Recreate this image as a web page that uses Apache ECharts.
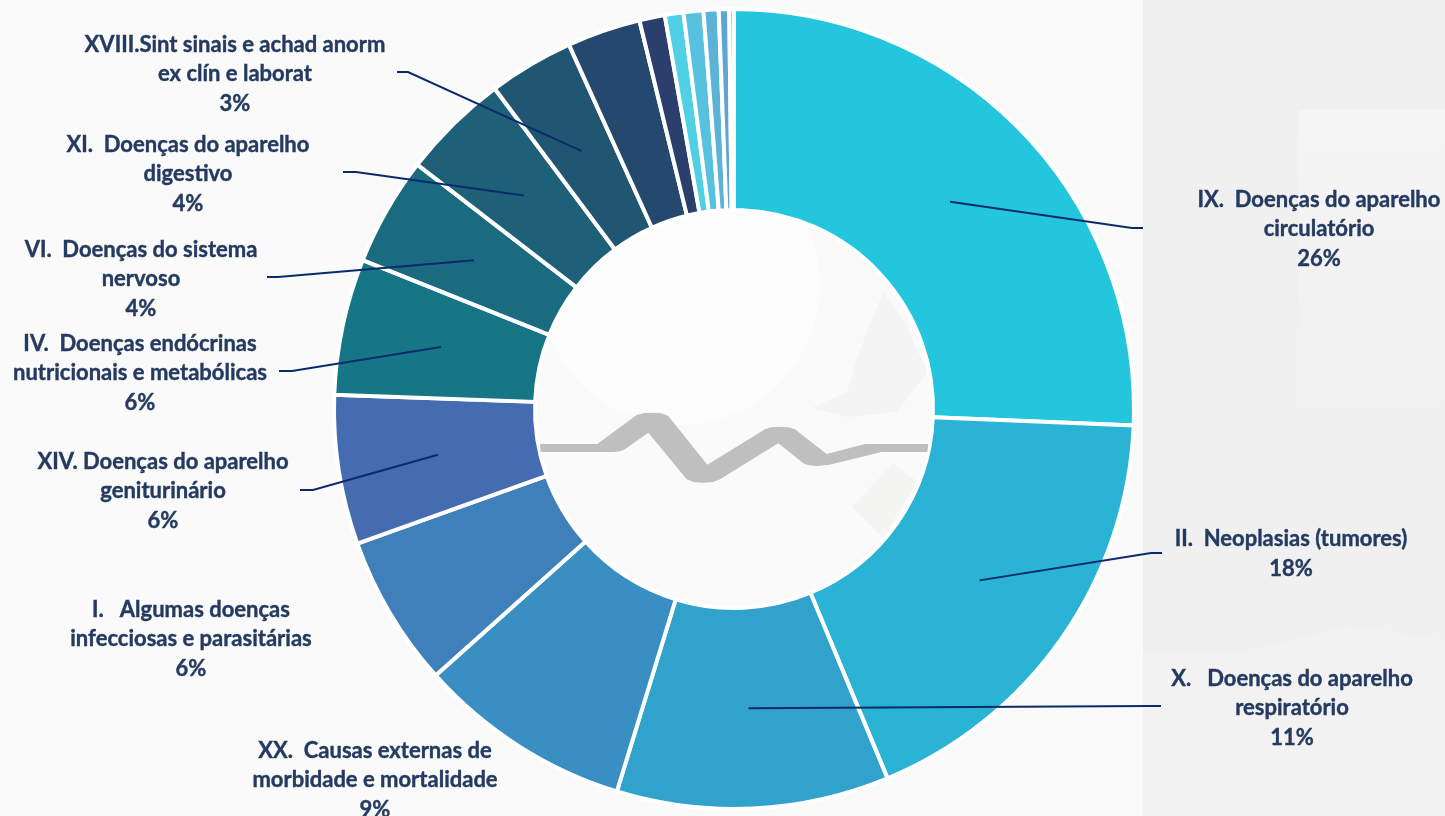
<!DOCTYPE html>
<html>
<head>
<meta charset="utf-8">
<style>
  html, body { margin: 0; padding: 0; background: #fafafa; }
  #main { width: 1445px; height: 816px; }
</style>
<script src="https://cdn.jsdelivr.net/npm/echarts@6/dist/echarts.min.js"></script>
</head>
<body>
<div id="main"></div>
<script>
// capitulos, valores em % (sentido horario a partir do topo)
var categories = [
    'IX.  Doenças do aparelho\ncirculatório',
    'II.  Neoplasias (tumores)',
    'X.   Doenças do aparelho\nrespiratório',
    'XX.  Causas externas de\nmorbidade e mortalidade',
    'I.   Algumas doenças\ninfecciosas e parasitárias',
    'XIV. Doenças do aparelho\ngeniturinário',
    'IV.  Doenças endócrinas\nnutricionais e metabólicas',
    'VI.  Doenças do sistema\nnervoso',
    'XI.  Doenças do aparelho\ndigestivo',
    'XVIII.Sint sinais e achad anorm\nex clín e laborat',
    'Outros a', 'Outros b', 'Outros c', 'Outros d', 'Outros e', 'Outros f', 'Outros g'
];
var values = [25.66, 18.07, 11, 8.67, 6.14, 6.03, 5.5, 4.39, 4.33, 3.44, 2.97, 1.03, 0.75, 0.8, 0.61, 0.42, 0.19];
var colors = ['#24c6de', '#2ab3d4', '#31a2cb', '#3a8fc2', '#3f7fba', '#456cb0', '#177686', '#1a6a80', '#1e6078', '#215672',
    '#25496e', '#2a3f6b', '#4fd0e4', '#57c2df', '#5cb3d8', '#5fa4d2', '#a0b8dc'];
// centro de cada rotulo [x, y]
var labelPos = [[1319, 229], [1291, 554], [1292, 708], [375, 780], [191, 639], [163, 491], [140, 373], [141, 279], [188, 174], [235, 74]];
// fim da linha guia: cotovelo e ponta (null = sem linha)
var leaderEnds = [
    [[1132, 228], [1143, 228]],
    [[1151, 553], [1162, 553]],
    [[1150, 706], [1161, 706]],
    null,
    null,
    [[313, 490], [300, 490]],
    [[292, 371], [279, 371]],
    [[278, 277], [267, 277]],
    [[356, 172], [343, 172]],
    [[408, 72], [397, 72]]
];
// linha de batimento no centro (pixels do zoom, escala 3x a partir de 520,390)
var pulse = [[60,162],[232,162],[350,75],[372,69],[395,68],[425,70],[445,78],[562,224],[735,118],[755,112],[775,110],[805,112],[825,118],
    [920,192],[1035,162],[1225,162],[1222,186],[1085,186],[925,225],[890,228],[865,226],[850,220],[775,160],[600,268],[580,276],[550,278],
    [520,276],[500,268],[385,128],[315,178],[300,184],[280,186],[62,186]];
// marca d'agua clara do fundo
var leafA = [[883,292],[905,322],[927,372],[897,412],[847,417],[812,408],[847,392],[858,355]];
var leafB = [[893,463],[917,482],[883,538],[852,507]];
var bandRight = [[1143,650],[1250,650],[1350,625],[1445,640],[1445,816],[1143,816]];

var cx = 734, cy = 409, rIn = 199, rOut = 400;
var myChart = echarts.init(document.getElementById('main'));

var total = values.reduce(function (a, b) { return a + b; }, 0);
var acc = 0;
var graphics = [
    { type: 'rect', z: -1, silent: true, shape: { x: 1143, y: 0, width: 302, height: 816 }, style: { fill: '#f0f0f1' } },
    {
        type: 'rect', z: -1, silent: true, shape: { x: 1298, y: 110, width: 147, height: 310 },
        style: { fill: new echarts.graphic.LinearGradient(0, 0, 0, 1, [{ offset: 0, color: '#f5f5f6' }, { offset: 1, color: '#f0f0f1' }]) }
    },
    { type: 'polygon', z: -1, silent: true, shape: { points: bandRight }, style: { fill: '#f2f2f3' } },
    { type: 'circle', z: -1, silent: true, shape: { cx: 680, cy: 285, r: 140 }, style: { fill: '#fdfdfd' } },
    { type: 'polygon', z: -1, silent: true, shape: { points: leafA }, style: { fill: '#f4f4f4' } },
    { type: 'polygon', z: -1, silent: true, shape: { points: leafB }, style: { fill: '#f4f5f3' } }
];
values.forEach(function (v, i) {
    var mid = (acc + v / 2) / total * Math.PI * 2;
    acc += v;
    if (!leaderEnds[i]) return;
    var rm = (rIn + rOut) / 2;
    var start = [cx + rm * Math.sin(mid), cy - rm * Math.cos(mid)];
    graphics.push({
        type: 'polyline', z: 10, silent: true,
        shape: { points: [start].concat(leaderEnds[i]) },
        style: { stroke: '#0b2a6b', lineWidth: 2, fill: null }
    });
});
graphics.push({
    type: 'polygon', z: 10, silent: true,
    shape: { points: pulse.map(function (p) { return [520 + p[0] / 3, 390 + p[1] / 3]; }) },
    style: { fill: '#bfbfbf' }
});

var option = {
    backgroundColor: 'transparent',
    animation: false,
    graphic: graphics,
    series: [{
        type: 'pie',
        center: [cx, cy],
        radius: [rIn, rOut],
        startAngle: 90,
        clockwise: true,
        percentPrecision: 0,
        avoidLabelOverlap: false,
        itemStyle: { borderColor: '#ffffff', borderWidth: 4 },
        label: {
            show: true,
            position: 'outside',
            formatter: '{b}\n{d}%',
            color: '#243a60',
            fontFamily: 'Lato',
            fontWeight: 'bold',
            fontSize: 22,
            lineHeight: 29.5,
            align: 'center',
            textBorderColor: '#243a60',
            textBorderWidth: 0.4
        },
        labelLine: { show: false },
        labelLayout: function (params) {
            var p = labelPos[params.dataIndex];
            if (!p) return {};
            return { x: p[0], y: p[1], align: 'center', verticalAlign: 'middle' };
        },
        data: values.map(function (v, i) {
            return {
                name: categories[i],
                value: v,
                itemStyle: { color: colors[i] },
                label: { show: i < labelPos.length }
            };
        })
    }]
};
myChart.setOption(option, true);
</script>
</body>
</html>
